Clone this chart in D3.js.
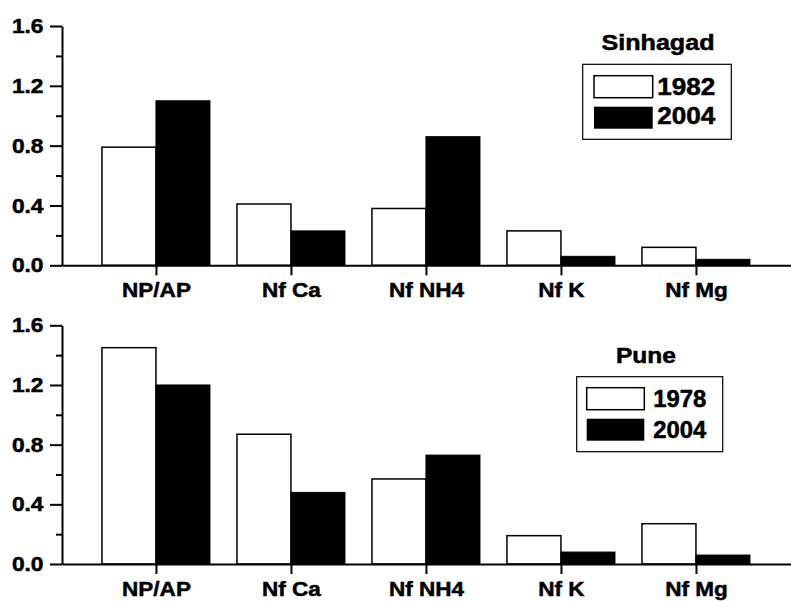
<!DOCTYPE html>
<html>
<head>
<meta charset="utf-8">
<script src="https://cdn.jsdelivr.net/npm/d3@7/dist/d3.min.js"></script>
<style>
  html, body { margin: 0; padding: 0; background: #fff; }
  svg { display: block; }
  text { font-family: "Liberation Sans", Arial, sans-serif; font-weight: bold; fill: #000;
         stroke: #000; stroke-width: 0.5px; }
</style>
</head>
<body>
<svg id="chart" width="791" height="601"></svg>
<script>
// Category labels along the x axis
const categories = ["NP/AP", "Nf Ca", "Nf NH4", "Nf K", "Nf Mg"];

// Sinhagad site
const sinhagadYears = ["1982", "2004"];
const sinhagad1982 = [0.79, 0.41, 0.38, 0.23, 0.12];
const sinhagad2004 = [1.10, 0.23, 0.86, 0.06, 0.04];

// Pune site
const puneYears = ["1978", "2004"];
const pune1978 = [1.45, 0.87, 0.57, 0.19, 0.27];
const pune2004 = [1.20, 0.48, 0.73, 0.08, 0.06];

// Value axis ticks
const yTicks = [0.0, 0.4, 0.8, 1.2, 1.6];
const yMinorTicks = [0.2, 0.6, 1.0, 1.4];

const svg = d3.select("#chart");

// Stretch bold text horizontally to the wider face used in the figure
function widen(sel, factor) {
  sel.each(function () {
    const w = this.getComputedTextLength();
    this.setAttribute("textLength", w * factor);
    this.setAttribute("lengthAdjust", "spacingAndGlyphs");
  });
}

const x = d3.scaleLinear().domain([0.304, 5.704]).range([62, 791]);
const barW = x(0.4) - x(0);

const panels = [
  {
    title: "Sinhagad", years: sinhagadYears, a: sinhagad1982, b: sinhagad2004,
    y0: 265.3, y1: 26,
    legend: { titleX: 658, titleY: 50, titleW: 113, box: [582.7, 64.3, 148.6, 75],
              swX: 594, swW: 58.7, swH: 22, sw1: 75.7, sw2: 106.7, lx: 657.3, l1: 95, l2: 124.3, lw: 58 }
  },
  {
    title: "Pune", years: puneYears, a: pune1978, b: pune2004,
    y0: 564, y1: 325.3,
    legend: { titleX: 646, titleY: 362.7, titleW: 60, box: [576.7, 376.7, 146, 75],
              swX: 586.7, swW: 57.6, swH: 22, sw1: 387.7, sw2: 418.7, lx: 653.3, l1: 406.7, l2: 437.7, lw: 53 }
  }
];

panels.forEach(p => {
  const y = d3.scaleLinear().domain([0, 1.6]).range([p.y0, p.y1]);
  const g = svg.append("g");

  // Bars: earlier year (white, left of the tick), 2004 (black, right of the tick)
  g.selectAll("rect.a").data(p.a).join("rect")
    .attr("class", "a")
    .attr("x", (d, i) => x(i + 1) - barW)
    .attr("y", d => y(d))
    .attr("width", barW)
    .attr("height", d => y(0) - y(d))
    .attr("fill", "#fff")
    .attr("stroke", "#000")
    .attr("stroke-width", 1.5);

  g.selectAll("rect.b").data(p.b).join("rect")
    .attr("class", "b")
    .attr("x", (d, i) => x(i + 1))
    .attr("y", d => y(d))
    .attr("width", barW)
    .attr("height", d => y(0) - y(d))
    .attr("fill", "#000")
    .attr("stroke", "#000")
    .attr("stroke-width", 1);

  // Minor y ticks
  const yMinor = g.append("g").attr("transform", "translate(62,0)")
    .call(d3.axisLeft(y).tickValues(yMinorTicks).tickSize(6).tickFormat(""));
  yMinor.select(".domain").remove();
  yMinor.selectAll("line").attr("stroke-width", 2);

  // Major y axis
  const yAxis = g.append("g").attr("transform", "translate(62,0)")
    .call(d3.axisLeft(y).tickValues(yTicks).tickSize(12).tickSizeOuter(0)
      .tickPadding(6.5).tickFormat(d3.format(".1f")));
  yAxis.select(".domain").attr("stroke-width", 2);
  yAxis.selectAll("line").attr("stroke-width", 2);
  yAxis.selectAll("text").attr("font-size", 20.5).attr("fill", "#000")
    .style("font-family", "'Liberation Sans', Arial, sans-serif").style("font-weight", "bold")
    .call(widen, 1.11);

  // x axis with category ticks
  const xAxis = g.append("g").attr("transform", `translate(0,${p.y0})`)
    .call(d3.axisBottom(x).tickValues([1, 2, 3, 4, 5]).tickSize(10).tickSizeOuter(0)
      .tickPadding(7).tickFormat(d => categories[d - 1]));
  xAxis.select(".domain").attr("stroke-width", 2);
  xAxis.selectAll("line").attr("stroke-width", 2);
  xAxis.selectAll("text").attr("font-size", 20.5).attr("fill", "#000")
    .style("font-family", "'Liberation Sans', Arial, sans-serif").style("font-weight", "bold")
    .call(widen, 1.1);

  // Legend
  const L = p.legend;
  g.append("text").attr("x", L.titleX).attr("y", L.titleY)
    .attr("text-anchor", "middle").attr("font-size", 21.5)
    .attr("textLength", L.titleW).attr("lengthAdjust", "spacingAndGlyphs")
    .text(p.title);
  g.append("rect").attr("x", L.box[0]).attr("y", L.box[1])
    .attr("width", L.box[2]).attr("height", L.box[3])
    .attr("fill", "none").attr("stroke", "#000").attr("stroke-width", 1.2);
  g.append("rect").attr("x", L.swX).attr("y", L.sw1).attr("width", L.swW).attr("height", L.swH)
    .attr("fill", "#fff").attr("stroke", "#000").attr("stroke-width", 1.5);
  g.append("rect").attr("x", L.swX).attr("y", L.sw2).attr("width", L.swW).attr("height", L.swH)
    .attr("fill", "#000");
  g.append("text").attr("x", L.lx).attr("y", L.l1).attr("font-size", 23.5)
    .attr("textLength", L.lw).attr("lengthAdjust", "spacingAndGlyphs").text(p.years[0]);
  g.append("text").attr("x", L.lx).attr("y", L.l2).attr("font-size", 23.5)
    .attr("textLength", L.lw).attr("lengthAdjust", "spacingAndGlyphs").text(p.years[1]);
});
</script>
</body>
</html>
